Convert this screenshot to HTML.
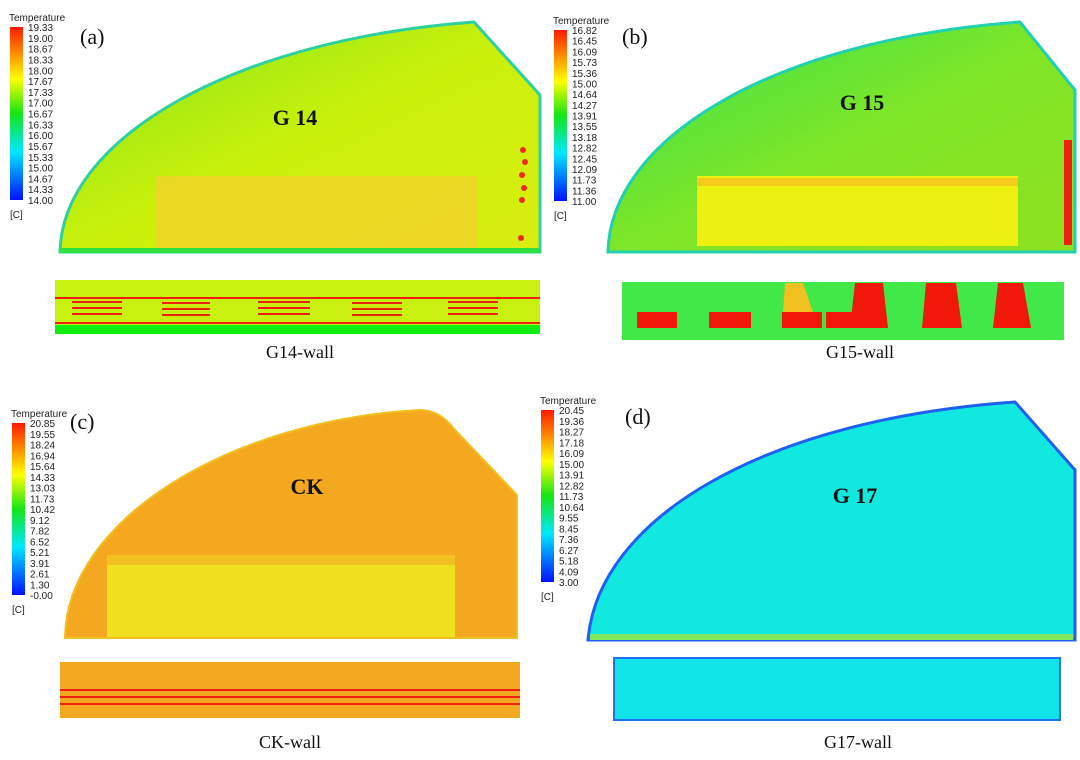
<!DOCTYPE html>
<html><head><meta charset="utf-8"><style>
body{margin:0;background:#fff;width:1080px;height:760px;overflow:hidden}
svg{display:block}
.lt{font-family:"Liberation Sans",sans-serif;font-size:10px;fill:#222}
.big{font-family:"Liberation Serif",serif;fill:#111}
</style></head><body>
<svg id="fig" width="1080" height="760" viewBox="0 0 1080 760">
<defs>
<linearGradient id="cbar" x1="0" y1="0" x2="0" y2="1">
<stop offset="0" stop-color="#ff1a00"/><stop offset="0.17" stop-color="#ff9a00"/><stop offset="0.3" stop-color="#ffff00"/><stop offset="0.5" stop-color="#14e614"/><stop offset="0.72" stop-color="#00e8ff"/><stop offset="1" stop-color="#0010ff"/>
</linearGradient>
<linearGradient id="gA" x1="0" y1="0" x2="1" y2="1"><stop offset="0" stop-color="#7fe61e"/><stop offset="0.5" stop-color="#c9f00a"/><stop offset="1" stop-color="#d8ee10"/></linearGradient>
<linearGradient id="gB" x1="0" y1="0" x2="1" y2="1"><stop offset="0" stop-color="#2ee050"/><stop offset="0.5" stop-color="#7ee628"/><stop offset="1" stop-color="#8ee020"/></linearGradient>
</defs>
<g id="legends"></g>

<g>
<path d="M60,252 C62,140 230,40 474,22 L540,95 L540,252 Z" fill="url(#gA)" stroke="#2ed0a0" stroke-width="3"/>
<rect x="155" y="176" width="323" height="72" fill="#f0d428" opacity="0.85"/>
<g fill="#f02818"><circle cx="523" cy="150" r="3"/><circle cx="525" cy="162" r="3"/><circle cx="522" cy="175" r="3"/><circle cx="524" cy="188" r="3"/><circle cx="522" cy="200" r="3"/><circle cx="521" cy="238" r="3"/></g>
<rect x="60" y="248" width="480" height="5" fill="#30e040"/>
<text x="80" y="44" class="big" font-size="22">(a)</text>
<text x="295" y="125" class="big" font-size="22" font-weight="bold" text-anchor="middle">G 14</text>
<rect x="55" y="280" width="485" height="45" fill="#c8f010"/>
<g fill="none" stroke="#f02010" stroke-width="2">
<line x1="55" y1="298" x2="540" y2="298"/><line x1="55" y1="323" x2="540" y2="323"/>
<path d="M72,302h50M72,308h50M72,314h50M162,303h48M162,309h48M162,315h48M258,302h52M258,308h52M258,314h52M352,303h50M352,309h50M352,315h50M448,302h50M448,308h50M448,314h50"/>
</g>
<rect x="55" y="325" width="485" height="9" fill="#10f010"/>
<text x="300" y="358" class="big" font-size="18" text-anchor="middle">G14-wall</text>
</g>

<g>
<path d="M608,252 C610,140 770,40 1020,22 L1075,90 L1075,252 Z" fill="url(#gB)" stroke="#20d0b0" stroke-width="3"/>
<rect x="697" y="176" width="321" height="70" fill="#eef012"/>
<rect x="697" y="178" width="321" height="8" fill="#f4b020" opacity="0.6"/>
<rect x="1064" y="140" width="8" height="105" fill="#f02010"/>
<text x="622" y="44" class="big" font-size="22">(b)</text>
<text x="862" y="110" class="big" font-size="22" font-weight="bold" text-anchor="middle">G 15</text>
<rect x="622" y="282" width="442" height="58" fill="#40e848"/>
<g fill="#f01808">
<rect x="637" y="312" width="40" height="16"/><rect x="709" y="312" width="42" height="16"/><rect x="782" y="312" width="40" height="16"/>
<path d="M855,283h28l5,45h-38z"/><path d="M926,283h30l6,45h-40z"/><path d="M998,283h25l8,45h-38z"/>
<rect x="826" y="312" width="30" height="16"/>
</g>
<path d="M785,283h18l10,29h-30z" fill="#f2c020"/>
<text x="860" y="358" class="big" font-size="18" text-anchor="middle">G15-wall</text>
</g>

<g>
<path d="M65,638 C66,520 230,420 420,410 Q440,410 455,430 L517,495 L517,638 Z" fill="#f4a820" stroke="#f0c020" stroke-width="2"/>
<rect x="107" y="555" width="348" height="82" fill="#f0e020"/>
<rect x="107" y="555" width="348" height="10" fill="#f2c020"/>
<text x="70" y="429" class="big" font-size="22">(c)</text>
<text x="307" y="494" class="big" font-size="22" font-weight="bold" text-anchor="middle">CK</text>
<rect x="60" y="662" width="460" height="56" fill="#f2a820"/>
<g stroke="#f02010" stroke-width="2"><line x1="60" y1="690" x2="520" y2="690"/><line x1="60" y1="697" x2="520" y2="697"/><line x1="60" y1="704" x2="520" y2="704"/></g>
<text x="290" y="748" class="big" font-size="18" text-anchor="middle">CK-wall</text>
</g>

<g>
<path d="M588,640 C598,520 760,420 1015,402 L1075,470 L1075,640 Z" fill="#10e8e0" stroke="#2060f0" stroke-width="3"/>
<rect x="590" y="634" width="483" height="6" fill="#80e860"/>
<text x="625" y="424" class="big" font-size="22">(d)</text>
<text x="855" y="503" class="big" font-size="22" font-weight="bold" text-anchor="middle">G 17</text>
<rect x="614" y="658" width="446" height="62" fill="#10e4e8" stroke="#2070f0" stroke-width="2"/>
<text x="858" y="748" class="big" font-size="18" text-anchor="middle">G17-wall</text>
</g>
</svg>
<script>
const ticksA=["19.33","19.00","18.67","18.33","18.00","17.67","17.33","17.00","16.67","16.33","16.00","15.67","15.33","15.00","14.67","14.33","14.00"];
const ticksB=["16.82","16.45","16.09","15.73","15.36","15.00","14.64","14.27","13.91","13.55","13.18","12.82","12.45","12.09","11.73","11.36","11.00"];
const ticksC=["20.85","19.55","18.24","16.94","15.64","14.33","13.03","11.73","10.42","9.12","7.82","6.52","5.21","3.91","2.61","1.30","-0.00"];
const ticksD=["20.45","19.36","18.27","17.18","16.09","15.00","13.91","12.82","11.73","10.64","9.55","8.45","7.36","6.27","5.18","4.09","3.00"];
const NS="http://www.w3.org/2000/svg";
const g=document.getElementById('legends');
function mk(t,a){const e=document.createElementNS(NS,t);for(const k in a)e.setAttribute(k,a[k]);return e;}
function legend(x,y,h,ticks,name){
  const grp=mk('g',{});
  
  
  const t=mk('text',{x:x-1,y:y-6,class:'lt'});t.textContent='Temperature';grp.appendChild(t);
  const r=mk('rect',{x:x,y:y,width:13,height:h,fill:'url(#cbar)'});grp.appendChild(r);
  ticks.forEach((v,i)=>{const tt=mk('text',{x:x+18,y:y+4+i*(h/(ticks.length-1)),class:'lt'});tt.textContent=v;grp.appendChild(tt);});
  const c=mk('text',{x:x,y:y+h+18,class:'lt'});c.textContent='[C]';grp.appendChild(c);
  g.appendChild(grp);
}
legend(10,27,173,ticksA,'legend-a');
legend(554,30,171,ticksB,'legend-b');
legend(12,423,172,ticksC,'legend-c');
legend(541,410,172,ticksD,'legend-d');
</script>
</body></html>
